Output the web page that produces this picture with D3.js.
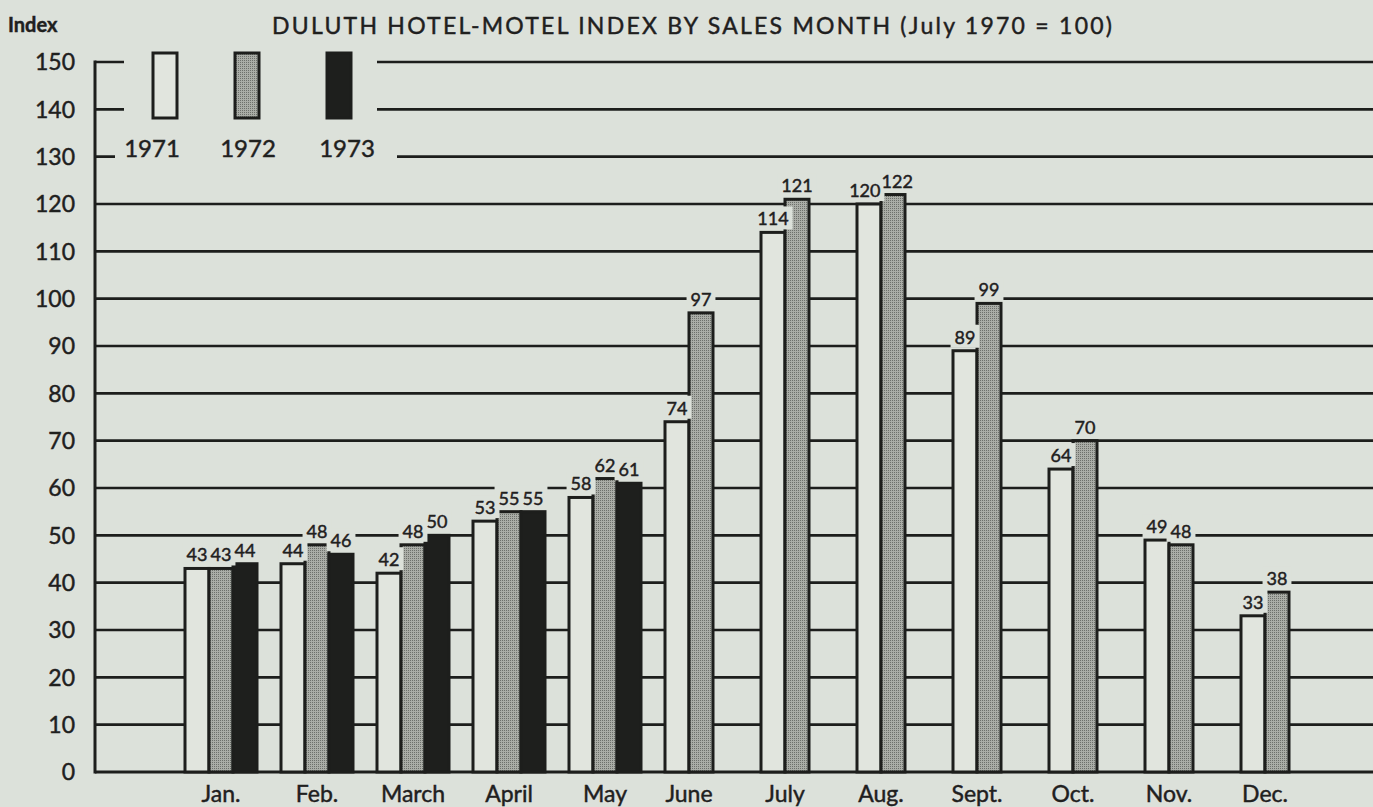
<!DOCTYPE html>
<html><head><meta charset="utf-8">
<script src="https://cdn.jsdelivr.net/npm/d3@7"></script>
<style>
html,body{margin:0;padding:0;background:#dce1da;}
svg{display:block;}
text{font-family:Lato,"DejaVu Sans",sans-serif;fill:#1f201e;stroke:#1f201e;stroke-width:0.45px;}
</style></head>
<body><svg id="c" width="1373" height="807"></svg>
<script>
const months = ["Jan.","Feb.","March","April","May","June","July","Aug.","Sept.","Oct.","Nov.","Dec."];
const years = ["1971","1972","1973"];
const v1971 = [43,44,42,53,58,74,114,120,89,64,49,33];
const v1972 = [43,48,48,55,62,97,121,122,99,70,48,38];
const v1973 = [44,46,50,55,61,null,null,null,null,null,null,null];
const yTicks = [0,10,20,30,40,50,60,70,80,90,100,110,120,130,140,150];
const title = "DULUTH HOTEL-MOTEL INDEX BY SALES MONTH  (July 1970 = 100)";
const yLabel = "Index";

const W = 1373, H = 807;
const BG = "#dce1da", INK = "#1d1e1c";
const fills = {"1971":"#e1e5de","1972":"url(#dots)","1973":"#1e1f1d"};
const series = {"1971":v1971,"1972":v1972,"1973":v1973};

const svg = d3.select("#c");
const defs = svg.append("defs");
const pat = defs.append("pattern").attr("id","dots").attr("width",2).attr("height",2).attr("patternUnits","userSpaceOnUse");
pat.append("rect").attr("width",2).attr("height",2).attr("fill","#aaada7");
pat.append("rect").attr("width",1).attr("height",1).attr("fill","#6d706b");

svg.append("rect").attr("width",W).attr("height",H).attr("fill",BG);

const y = d3.scaleLinear().domain([0,150]).range([772,62]);
const x = d3.scaleBand().domain(months).range([173,173+96*12]).paddingInner(0.25).paddingOuter(0.125);
const xi = d3.scaleBand().domain(years).range([0,x.bandwidth()]);
const axisX = 95;

// gridlines
const grid = svg.append("g");
grid.selectAll("line").data(yTicks).join("line")
  .attr("x1",axisX).attr("x2",W).attr("y1",d=>y(d)).attr("y2",d=>y(d))
  .attr("stroke",INK).attr("stroke-width",d=>d===0?3:2.6);
// legend cut-outs
svg.append("rect").attr("x",124).attr("y",40).attr("width",253).attr("height",82).attr("fill",BG);
svg.append("rect").attr("x",115).attr("y",122).attr("width",282).attr("height",46).attr("fill",BG);
// y axis line
svg.append("line").attr("x1",axisX).attr("x2",axisX).attr("y1",y(150)-1.5).attr("y2",y(0)+1.5)
  .attr("stroke",INK).attr("stroke-width",3);

// y tick labels
svg.append("g").selectAll("text").data(yTicks).join("text")
  .attr("x",75).attr("y",d=>y(d)).attr("dy","0.36em").attr("text-anchor","end")
  .attr("font-size",23).text(d=>d);

svg.append("text").attr("x",8).attr("y",32).attr("font-size",20).attr("font-weight",700).text(yLabel);
svg.append("text").attr("x",272).attr("y",34).attr("font-size",23)
  .attr("textLength",840).attr("lengthAdjust","spacing").text(title);

// bars
const barData = [];
months.forEach((m,i)=>{
  years.forEach(yr=>{
    const v = series[yr][i];
    if (v!=null) barData.push({m,yr,v});
  });
});
const bars = svg.append("g");
bars.selectAll("rect").data(barData).join("rect")
  .attr("x",d=>x(d.m)+xi(d.yr)).attr("width",xi.bandwidth())
  .attr("y",d=>y(d.v)).attr("height",d=>y(0)-y(d.v))
  .attr("fill",d=>fills[d.yr]).attr("stroke",INK).attr("stroke-width",3);

// value labels with paper backgrounds
const lbl = svg.append("g");
const items = barData.map(d=>{
  const cx = x(d.m)+xi(d.yr)+xi.bandwidth()/2;
  const by = y(d.v)-7;
  const t = lbl.append("text").attr("x",cx).attr("y",by).attr("text-anchor","middle")
    .attr("font-size",18).text(d.v);
  return {d,t,cx,by,bb:t.node().getBBox()};
});
// nudge overlapping neighbours apart
for (let k=1;k<items.length;k++){
  const a = items[k-1], b = items[k];
  if (a.d.m!==b.d.m) continue;
  const vOver = Math.abs(a.by-b.by) < a.bb.height-2;
  const over = (a.bb.x+a.bb.width+1) - b.bb.x;
  if (vOver && over>0){
    a.t.attr("x",a.cx-over/2); b.t.attr("x",b.cx+over/2);
    a.bb = a.t.node().getBBox(); b.bb = b.t.node().getBBox();
  }
}
items.forEach(it=>{
  const bb = it.t.node().getBBox();
  lbl.insert("rect","text").attr("x",bb.x-4).attr("y",bb.y-1).attr("width",bb.width+8).attr("height",bb.height+1).attr("fill",BG);
});
lbl.selectAll("text").raise();

// month labels
svg.append("g").selectAll("text").data(months).join("text")
  .attr("x",(m,i)=>{
    const n = years.filter(yr=>series[yr][i]!=null).length;
    return x(m)+xi.step()*n/2;
  })
  .attr("y",802).attr("text-anchor","middle").attr("font-size",23).text(d=>d);

// legend
const legX = {"1971":153,"1972":235,"1973":327};
const legTX = {"1971":152,"1972":248,"1973":347};
const leg = svg.append("g");
years.forEach(yr=>{
  leg.append("rect").attr("x",legX[yr]).attr("y",53).attr("width",24).attr("height",65)
    .attr("fill",fills[yr]).attr("stroke",INK).attr("stroke-width",3);
  leg.append("text").attr("x",legTX[yr]).attr("y",157).attr("text-anchor","middle")
    .attr("font-size",24).text(yr);
});
</script></body></html>
